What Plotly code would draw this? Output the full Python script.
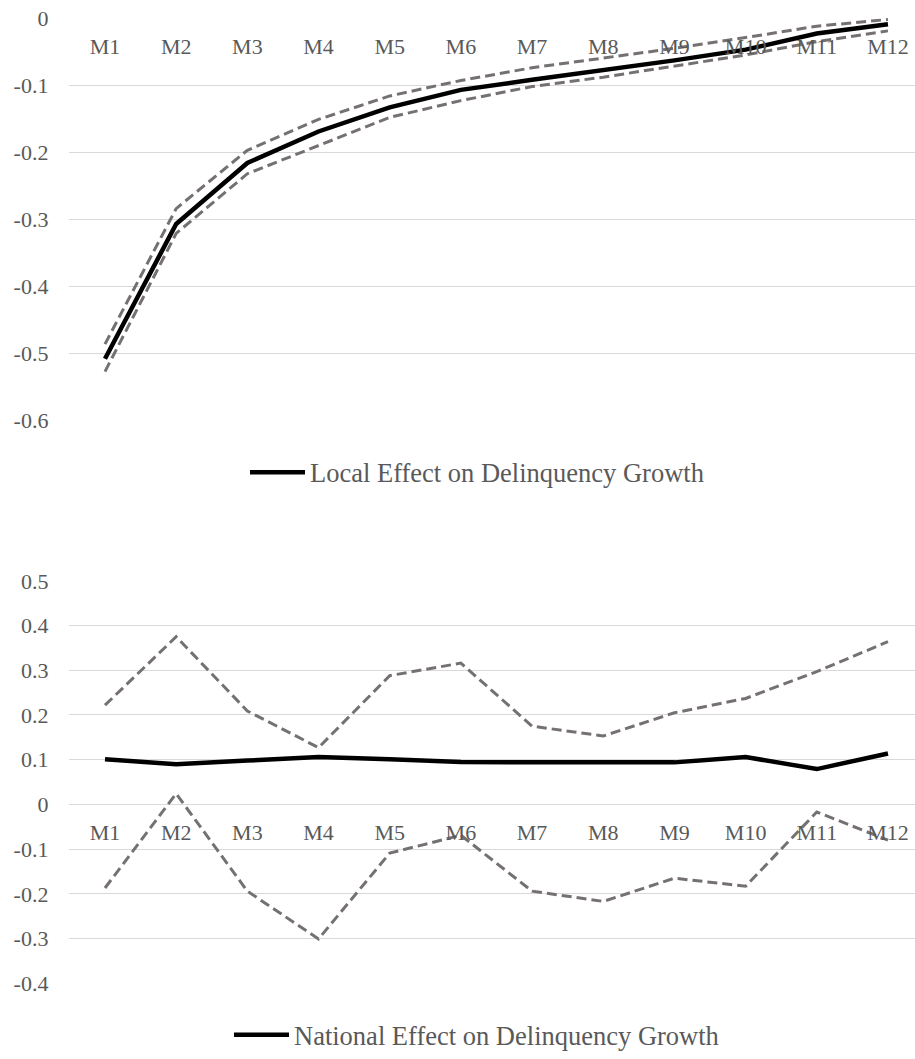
import plotly.graph_objects as go

months = ["M1", "M2", "M3", "M4", "M5", "M6", "M7", "M8", "M9", "M10", "M11", "M12"]

# Local effect on delinquency growth, with upper / lower bands
local_effect = [-0.508, -0.307, -0.216, -0.169, -0.133, -0.107, -0.092, -0.078, -0.063, -0.047, -0.023, -0.009]
local_upper = [-0.486, -0.284, -0.197, -0.151, -0.116, -0.093, -0.074, -0.060, -0.045, -0.029, -0.012, -0.002]
local_lower = [-0.527, -0.321, -0.232, -0.190, -0.148, -0.123, -0.102, -0.088, -0.072, -0.055, -0.035, -0.019]

# National effect on delinquency growth, with upper / lower bands
national_effect = [0.101, 0.090, 0.098, 0.106, 0.101, 0.095, 0.094, 0.094, 0.094, 0.106, 0.079, 0.114]
national_upper = [0.222, 0.375, 0.209, 0.127, 0.288, 0.316, 0.175, 0.153, 0.205, 0.237, 0.297, 0.364]
national_lower = [-0.187, 0.024, -0.194, -0.301, -0.109, -0.069, -0.194, -0.217, -0.165, -0.183, -0.017, -0.080]

local_ticks = [0, -0.1, -0.2, -0.3, -0.4, -0.5, -0.6]
national_ticks = [0.5, 0.4, 0.3, 0.2, 0.1, 0, -0.1, -0.2, -0.3, -0.4]

W, H = 915, 1059
FONT = "Liberation Serif, Times New Roman, serif"
TEXT = "#595959"
GRID = "#d9d9d9"
BAND = "#767171"

# pixel geometry of the two panels
x_left = 69.4
step = 71.18
top_px, bot_px = 18, 424          # local panel: 0 .. -0.6
top2_px, bot2_px = 585, 991       # national panel: 0.5 .. -0.4

def py(px):
    return 1 - px / H

x_dom = [x_left / W, 1.0]
x_range = [-0.5, -0.5 + (W - x_left) / step]

fig = go.Figure()

def add_panel(effect, upper, lower, name, xa, ya, legend):
    for band in (upper, lower):
        fig.add_trace(go.Scatter(
            x=months, y=band, mode="lines", xaxis=xa, yaxis=ya,
            line=dict(color=BAND, width=3, dash="10px,5px"),
            showlegend=False, hoverinfo="skip"))
    fig.add_trace(go.Scatter(
        x=months, y=effect, mode="lines", xaxis=xa, yaxis=ya, name=name,
        line=dict(color="black", width=4.5), legend=legend))

add_panel(local_effect, local_upper, local_lower,
          "Local Effect on Delinquency Growth", "x", "y", "legend")
add_panel(national_effect, national_upper, national_lower,
          "National Effect on Delinquency Growth", "x2", "y2", "legend2")

eps1 = 0.0004
eps2 = 0.0006
dom1 = [py(bot_px), py(top_px)]
dom2 = [py(bot2_px), py(top2_px)]
# position of the zero line in the national panel (paper coords)
zero2 = dom2[0] + (0.4 / 0.9) * (dom2[1] - dom2[0])

tickfont = dict(family=FONT, size=22, color=TEXT)
legendfont = dict(family=FONT, size=26.5, color=TEXT)

xcommon = dict(type="category", categoryorder="array", categoryarray=months,
               range=x_range, domain=x_dom, showgrid=False, zeroline=False,
               showline=False, ticks="", tickfont=tickfont, automargin=False,
               side="bottom", anchor="free", ticklabelstandoff=13)
ycommon = dict(showgrid=True, gridcolor=GRID, gridwidth=1.3, zeroline=False,
               showline=False, ticks="", tickfont=tickfont, automargin=False,
               ticklabelstandoff=20, tickmode="array")

fig.update_layout(
    width=W, height=H,
    margin=dict(l=0, r=0, t=0, b=0),
    paper_bgcolor="white", plot_bgcolor="white",
    template="none",
    xaxis=dict(xcommon, position=dom1[1]),
    xaxis2=dict(xcommon, position=zero2),
    yaxis=dict(ycommon, domain=dom1, range=[-0.6 - eps1, 0 + eps1],
               tickvals=local_ticks, ticktext=[f"{v:g}" for v in local_ticks]),
    yaxis2=dict(ycommon, domain=dom2, range=[-0.4 - eps2, 0.5 + eps2],
                tickvals=national_ticks, ticktext=[f"{v:g}" for v in national_ticks]),
    legend=dict(x=245 / W, y=py(476), xanchor="left", yanchor="middle",
                font=legendfont, bgcolor="rgba(0,0,0,0)", itemwidth=55),
    legend2=dict(x=229 / W, y=py(1043), xanchor="left", yanchor="middle",
                 font=legendfont, bgcolor="rgba(0,0,0,0)", itemwidth=55),
    showlegend=True,
)

fig.write_html("out.html")
